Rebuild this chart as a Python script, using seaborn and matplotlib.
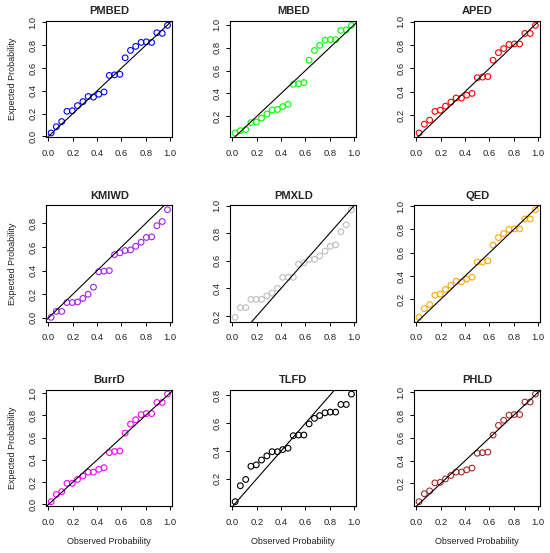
import numpy as np
import matplotlib
matplotlib.use("Agg")
import matplotlib.pyplot as plt
import seaborn as sns

# observed probabilities (same for every panel)
observed = [0.022, 0.065, 0.109, 0.152, 0.196, 0.239, 0.283, 0.326, 0.370, 0.413,
            0.457, 0.500, 0.543, 0.587, 0.630, 0.674, 0.717, 0.761, 0.804, 0.848,
            0.891, 0.935, 0.978]

names = ["PMBED", "MBED", "APED", "KMIWD", "PMXLD", "QED", "BurrD", "TLFD", "PHLD"]
colors = ["#0000FF", "#00FF00", "#FF0000", "#A020F0", "#BEBEBE", "#FFA500",
          "#FF00FF", "#000000", "#A52A2A"]

pmbed = [0.03, 0.085, 0.13, 0.22, 0.225, 0.27, 0.305, 0.35, 0.345, 0.37, 0.39, 0.535,
         0.54, 0.545, 0.69, 0.755, 0.79, 0.825, 0.83, 0.825, 0.91, 0.905, 0.975]
mbed = [0.055, 0.075, 0.085, 0.145, 0.15, 0.185, 0.22, 0.255, 0.26, 0.285, 0.305, 0.48,
        0.485, 0.495, 0.69, 0.775, 0.82, 0.865, 0.87, 0.87, 0.95, 0.955, 0.995]
aped = [0.045, 0.12, 0.155, 0.23, 0.24, 0.275, 0.31, 0.345, 0.345, 0.37, 0.385, 0.52,
        0.525, 0.53, 0.67, 0.735, 0.77, 0.805, 0.81, 0.81, 0.9, 0.9, 0.97]
kmiwd = [0.005, 0.055, 0.055, 0.13, 0.13, 0.135, 0.165, 0.2, 0.26, 0.39, 0.395, 0.4,
         0.535, 0.55, 0.57, 0.575, 0.605, 0.64, 0.68, 0.685, 0.78, 0.815, 0.915]
pmxld = [0.19, 0.26, 0.26, 0.32, 0.32, 0.32, 0.345, 0.365, 0.4, 0.48, 0.48, 0.48,
         0.575, 0.585, 0.61, 0.61, 0.635, 0.67, 0.705, 0.715, 0.81, 0.86, 0.97]
qed = [0.045, 0.12, 0.155, 0.235, 0.245, 0.285, 0.32, 0.355, 0.35, 0.375, 0.39, 0.52,
       0.52, 0.53, 0.665, 0.73, 0.765, 0.8, 0.805, 0.805, 0.89, 0.89, 0.97]
burrd = [0.025, 0.09, 0.115, 0.19, 0.19, 0.225, 0.255, 0.29, 0.29, 0.315, 0.33, 0.465,
         0.475, 0.48, 0.64, 0.72, 0.76, 0.805, 0.815, 0.815, 0.915, 0.915, 0.99]
tlfd = [0.035, 0.15, 0.195, 0.29, 0.3, 0.335, 0.365, 0.395, 0.395, 0.41, 0.42, 0.51,
        0.515, 0.515, 0.595, 0.635, 0.655, 0.675, 0.68, 0.68, 0.735, 0.735, 0.81]
phld = [0.04, 0.11, 0.135, 0.205, 0.21, 0.24, 0.27, 0.3, 0.3, 0.32, 0.335, 0.465,
        0.47, 0.475, 0.625, 0.71, 0.755, 0.8, 0.805, 0.805, 0.915, 0.915, 0.985]

expected = [pmbed, mbed, aped, kmiwd, pmxld, qed, burrd, tlfd, phld]

sns.set_theme(style="white")
plt.rcParams["font.family"] = ["Liberation Sans", "DejaVu Sans"]


def r_lim(vals):
    # R style axis range: data range padded by 4 percent
    lo, hi = min(vals), max(vals)
    d = (hi - lo) * 0.04
    return lo - d, hi + d


fig, axes = plt.subplots(3, 3, figsize=(5.5, 5.53), dpi=100)
fig.subplots_adjust(left=0.0845, right=0.982, top=0.962, bottom=0.085,
                    wspace=0.464, hspace=0.586)

for i, ax in enumerate(axes.flat):
    y = expected[i]
    sns.scatterplot(x=observed, y=y, ax=ax, marker="o", s=17,
                    facecolor="none", edgecolor=colors[i], linewidth=0.8)
    ax.axline((0, 0), slope=1, color="black", linewidth=0.8)
    ax.set_xlim(*r_lim(observed))
    ax.set_ylim(*r_lim(y))
    ax.xaxis.set_major_locator(plt.MultipleLocator(0.2))
    ax.yaxis.set_major_locator(plt.MultipleLocator(0.2))
    ax.xaxis.set_major_formatter(plt.FormatStrFormatter("%.1f"))
    ax.yaxis.set_major_formatter(plt.FormatStrFormatter("%.1f"))
    ax.tick_params(axis="both", which="major", bottom=True, left=True,
                   direction="out", length=3, width=0.7, color="black",
                   labelsize=6.8, labelcolor="#222222")
    ax.tick_params(axis="x", pad=5.5)
    ax.tick_params(axis="y", pad=3.5, labelrotation=90)
    for lab in ax.get_yticklabels():
        lab.set_va("center")
    for sp in ax.spines.values():
        sp.set_color("black")
        sp.set_linewidth(0.8)
    ax.set_title(names[i], fontsize=8, fontweight="bold", pad=4.7)
    if i % 3 == 0:
        ax.set_ylabel("Expected Probability", fontsize=6.5, labelpad=8,
                      color="#222222")
    else:
        ax.set_ylabel("")
    if i >= 6:
        ax.set_xlabel("Observed Probability", fontsize=6.5, labelpad=7,
                      color="#222222")
    else:
        ax.set_xlabel("")

fig.savefig("out.png", dpi=100)
